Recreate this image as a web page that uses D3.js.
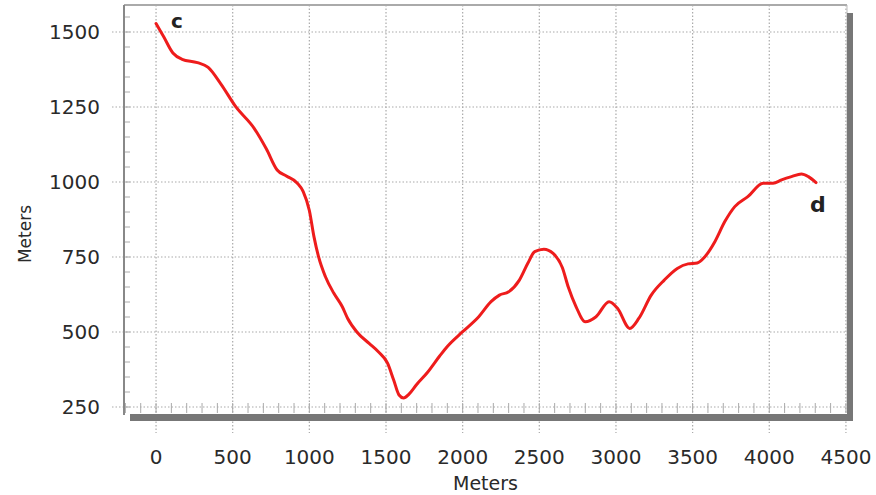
<!DOCTYPE html>
<html><head><meta charset="utf-8">
<script src="https://cdn.jsdelivr.net/npm/d3@7"></script>
<style>body{margin:0;background:#fff;}svg{display:block;}</style>
</head><body>
<svg id="chart" width="876" height="495"></svg>
<script>
const distance = [0,50,110,170,270,340,420,520,640,720,790,850,920,960,1000,1030,1060,1105,1160,1215,1250,1310,1390,1450,1510,1550,1585,1615,1650,1700,1770,1850,1900,2000,2105,2185,2240,2300,2370,2425,2470,2530,2590,2650,2690,2740,2800,2870,2955,3010,3090,3150,3230,3315,3400,3470,3530,3580,3645,3710,3775,3860,3960,4025,4080,4145,4210,4255,4305];
const elevation = [1528,1484,1430,1409,1398,1382,1329,1251,1179,1110,1040,1020,997,968,905,818,751,684,629,584,545,500,462,434,396,340,290,280,293,325,365,420,452,501,551,601,623,634,673,729,768,776,762,715,648,584,534,551,601,579,512,546,623,673,712,727,730,751,801,868,918,951,996,996,1007,1018,1027,1018,998];
const xTicks = [0,500,1000,1500,2000,2500,3000,3500,4000,4500];
const yTicks = [250,500,750,1000,1250,1500];
const xLabel = "Meters", yLabel = "Meters";
const labels = [{t:"c", x:0, y:1528}, {t:"d", x:4305, y:998}];

const svg = d3.select("#chart");
const L=124, R=847, T=5, B=413;
const x = d3.scaleLinear().domain([-209,4507]).range([L,R]);
const y = d3.scaleLinear().domain([230,1590]).range([B,T]);
const font = "'DejaVu Sans', Verdana, sans-serif";

// grid (dotted), extended beyond plot like ticks
const g = svg.append("g");
g.selectAll(".vg").data(xTicks).join("line")
  .attr("x1",d=>x(d)).attr("x2",d=>x(d)).attr("y1",T).attr("y2",B+20)
  .attr("stroke","#aaa").attr("stroke-width",1.2).attr("stroke-dasharray","1.5,2");
g.selectAll(".hg").data(yTicks).join("line")
  .attr("x1",L-12).attr("x2",R).attr("y1",d=>y(d)).attr("y2",d=>y(d))
  .attr("stroke","#aaa").attr("stroke-width",1.2).attr("stroke-dasharray","1.5,2");

// minor ticks
const yMinor = d3.range(250,1590,50);
g.selectAll(".ym").data(yMinor).join("line")
  .attr("x1",L).attr("x2",L+6).attr("y1",d=>y(d)).attr("y2",d=>y(d))
  .attr("stroke","#aaa").attr("stroke-width",1);
const xMinor = d3.range(-200,4501,100);
g.selectAll(".xm").data(xMinor).join("line")
  .attr("x1",d=>x(d)).attr("x2",d=>x(d)).attr("y1",B-10).attr("y2",B)
  .attr("stroke","#aaa").attr("stroke-width",1);

// frame
svg.append("line").attr("x1",L).attr("x2",R).attr("y1",T).attr("y2",T).attr("stroke","#aaa").attr("stroke-width",2);
svg.append("line").attr("x1",L).attr("x2",L).attr("y1",T).attr("y2",B+2).attr("stroke","#888").attr("stroke-width",2);
svg.append("line").attr("x1",R).attr("x2",R).attr("y1",T).attr("y2",B).attr("stroke","#bbb").attr("stroke-width",1);
svg.append("rect").attr("x",R).attr("y",T+8).attr("width",6).attr("height",B-T).attr("fill","#777");
svg.append("rect").attr("x",L+6).attr("y",B+1).attr("width",R-L).attr("height",7).attr("fill","#777");

// axes labels
svg.append("g").selectAll("text").data(yTicks).join("text")
  .attr("x",100).attr("y",d=>y(d)).attr("dy","0.36em").attr("text-anchor","end")
  .attr("font-family",font).attr("font-size",20).attr("fill","#2a2a2a").text(d=>d);
svg.append("g").selectAll("text").data(xTicks).join("text")
  .attr("x",d=>x(d)).attr("y",464).attr("text-anchor","middle")
  .attr("font-family",font).attr("font-size",20).attr("fill","#2a2a2a").text(d=>d);
svg.append("text").attr("x",(L+R)/2).attr("y",490).attr("text-anchor","middle")
  .attr("font-family",font).attr("font-size",19).attr("fill","#2a2a2a").text(xLabel);
svg.append("text").attr("transform","translate(31,234) rotate(-90)").attr("text-anchor","middle")
  .attr("font-family",font).attr("font-size",17).attr("fill","#2a2a2a").text(yLabel);

// line
const data = distance.map((d,i)=>({d, e:elevation[i]}));
svg.append("path").datum(data)
  .attr("d", d3.line().x(p=>x(p.d)).y(p=>y(p.e)).curve(d3.curveMonotoneX))
  .attr("fill","none").attr("stroke","#ee1c1c").attr("stroke-width",3).attr("stroke-linejoin","round").attr("stroke-linecap","round");

// point labels
svg.append("text").attr("x",x(labels[0].x)+15).attr("y",y(labels[0].y)+4)
  .attr("font-family",font).attr("font-weight","bold").attr("font-size",20).attr("fill","#222").text(labels[0].t);
svg.append("text").attr("x",x(labels[1].x)-6).attr("y",y(labels[1].y)+29)
  .attr("font-family",font).attr("font-weight","bold").attr("font-size",22).attr("fill","#222").text(labels[1].t);
</script>
</body></html>
